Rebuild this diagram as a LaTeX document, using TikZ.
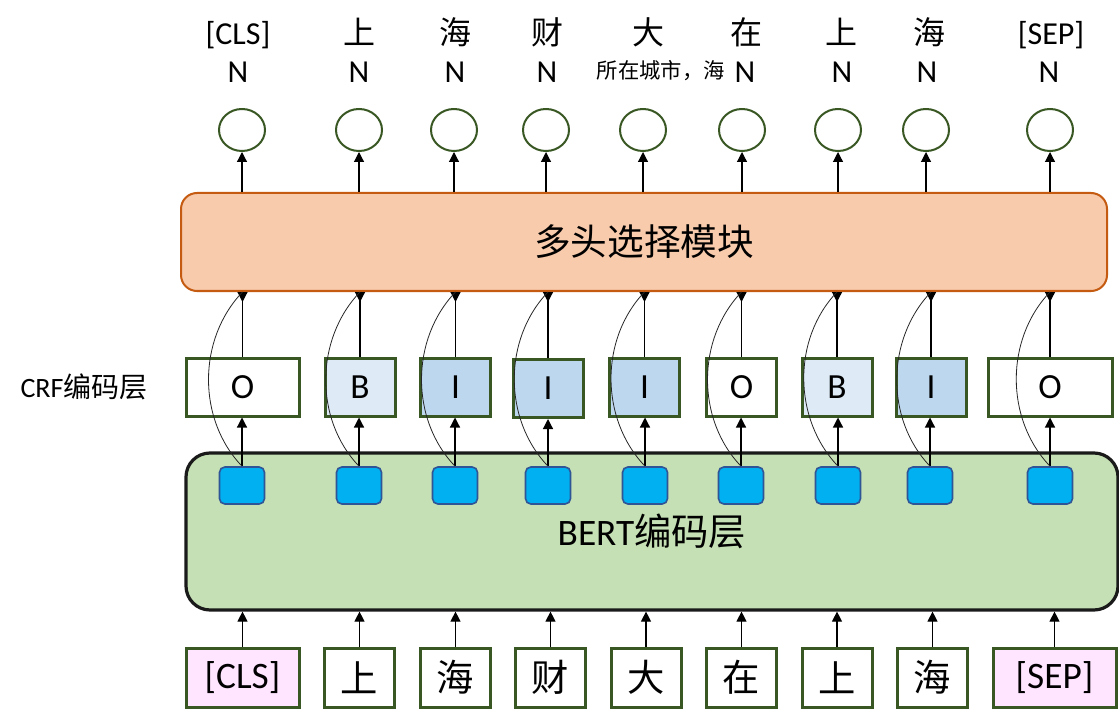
\documentclass[tikz,border=0pt]{standalone}
\usepackage{fontspec}
\setmainfont{Carlito}
\newfontfamily\cjk{Noto Sans CJK SC}
\usetikzlibrary{arrows.meta,shapes.geometric}
\definecolor{ink}{HTML}{000000}
\definecolor{grn}{HTML}{385723}
\definecolor{tagB}{HTML}{DEEBF7}
\definecolor{tagI}{HTML}{BDD7EE}
\definecolor{spec}{HTML}{FFE5FF}
\definecolor{bertfill}{HTML}{C5E0B4}
\definecolor{bertline}{HTML}{1A1A1A}
\definecolor{selfill}{HTML}{F8CBAD}
\definecolor{selline}{HTML}{C55A11}
\definecolor{tokfill}{HTML}{00B0F0}
\definecolor{tokline}{HTML}{2F5597}
\newcommand{\fsz}[1]{\fontsize{#1}{#1}\selectfont}
\tikzset{
  lbl/.style={inner sep=0pt, font=\fsz{24}, anchor=base},
  outc/.style={draw=grn, line width=1.5pt, ellipse, fill=white, inner sep=0pt,
               minimum width=34.5pt, minimum height=31.5pt},
  crf/.style={draw=grn, line width=2.25pt, fill=white, inner sep=0pt, font=\fsz{26.5},
              minimum width=52.5pt, minimum height=43.5pt},
  inp/.style={crf, minimum height=44.25pt, font=\fsz{28}},
  tok/.style={draw=tokline, line width=1.2pt, fill=tokfill, rounded corners=4pt, inner sep=0pt,
              minimum width=33.75pt, minimum height=27.75pt},
  selbox/.style={draw=selline, line width=1.5pt, fill=selfill, rounded corners=12pt,
                 minimum width=694.5pt, minimum height=73.5pt, font=\cjk\fsz{27.5}},
  bertbox/.style={draw=bertline, line width=2.4pt, fill=bertfill, rounded corners=18pt,
                  minimum width=699pt, minimum height=117.75pt, font=\fsz{28}},
  arr/.style={-{Triangle[length=7.5pt,width=7.5pt]}, line width=0.9pt, draw=ink},
  rarr/.style={{Triangle[reversed,length=7.5pt,width=7.5pt]}-, line width=0.9pt, draw=ink},
  skip/.style={line width=0.6pt, draw=ink!85},
}

\begin{document}
\begin{tikzpicture}[x=0.75pt,y=-0.75pt]
  \useasboundingbox (0,0) rectangle (1119,723);
  % predicted words
  \node[lbl] (w1) at (238,45)  {[CLS]};
  \node[lbl] (w2) at (359,45)  {\cjk 上};
  \node[lbl] (w3) at (455,45)  {\cjk 海};
  \node[lbl] (w4) at (547,45)  {\cjk 财};
  \node[lbl] (w5) at (648,45)  {\cjk 大};
  \node[lbl] (w6) at (746,45)  {\cjk 在};
  \node[lbl] (w7) at (841,45)  {\cjk 上};
  \node[lbl] (w8) at (929,45)  {\cjk 海};
  \node[lbl] (w9) at (1051,45) {[SEP]};
  % relation labels
  \node[lbl] (r1) at (238,83)  {N};
  \node[lbl] (r2) at (359,83)  {N};
  \node[lbl] (r3) at (455,83)  {N};
  \node[lbl] (r4) at (547,83)  {N};
  \node[lbl, anchor=base east, font=\cjk\fsz{16}] (r5) at (725,79) {所在城市，海};
  \node[lbl] (r6) at (745,83)  {N};
  \node[lbl] (r7) at (842,83)  {N};
  \node[lbl] (r8) at (927,83)  {N};
  \node[lbl] (r9) at (1049,83) {N};
  % output nodes
  \node[outc] (o1) at (242,130)  {};
  \node[outc] (o2) at (359,130)  {};
  \node[outc] (o3) at (454,130)  {};
  \node[outc] (o4) at (546,130)  {};
  \node[outc] (o5) at (643,130)  {};
  \node[outc] (o6) at (742,130)  {};
  \node[outc] (o7) at (838,130)  {};
  \node[outc] (o8) at (926,130)  {};
  \node[outc] (o9) at (1050,130) {};
  % multi-head selection
  \node[selbox] (sel) at (644,242) {多头选择模块};
  % CRF layer
  \node[font=\fsz{21}] (crflbl) at (84,387) {CRF{\cjk 编码层}};
  \node[crf, minimum width=84.75pt] (c1) at (242.5,387) {O};
  \node[crf, fill=tagB] (c2) at (360,387)   {B};
  \node[crf, fill=tagI] (c3) at (455.5,387) {I};
  \node[crf, fill=tagI] (c4) at (548,388.5) {I};
  \node[crf, fill=tagI] (c5) at (644.5,387) {I};
  \node[crf]            (c6) at (741.5,387) {O};
  \node[crf, fill=tagB] (c7) at (837,387)   {B};
  \node[crf, fill=tagI] (c8) at (931,387)   {I};
  \node[crf, minimum width=93pt] (c9) at (1050,387) {O};
  % BERT layer
  \node[bertbox] (bert) at (652,531.5) {BERT{\cjk 编码层}};
  \node[tok] (b1) at (242,485.5)  {};
  \node[tok] (b2) at (359,485.5)  {};
  \node[tok] (b3) at (455,485.5)  {};
  \node[tok] (b4) at (548,485.5)  {};
  \node[tok] (b5) at (645,485.5)  {};
  \node[tok] (b6) at (741,485.5)  {};
  \node[tok] (b7) at (838,485.5)  {};
  \node[tok] (b8) at (930,485.5)  {};
  \node[tok] (b9) at (1050,485.5) {};
  % input tokens
  \node[inp, minimum width=84.75pt, fill=spec] (i1) at (242.5,677.5) {[CLS]};
  \node[inp] (i2) at (359.5,677.5) {\cjk 上};
  \node[inp] (i3) at (455.5,677.5) {\cjk 海};
  \node[inp] (i4) at (550.5,677.5) {\cjk 财};
  \node[inp] (i5) at (646,677.5)   {\cjk 大};
  \node[inp] (i6) at (741.5,677.5) {\cjk 在};
  \node[inp] (i7) at (837,677.5)   {\cjk 上};
  \node[inp] (i8) at (932.5,677.5) {\cjk 海};
  \node[inp, minimum width=92.25pt, fill=spec] (i9) at (1054.5,677.5) {[SEP]};
  % inputs -> BERT
  \draw[arr] (i1.north) -- (i1.north |- bert.south);
  \draw[arr] (i2.north) -- (i2.north |- bert.south);
  \draw[arr] (i3.north) -- (i3.north |- bert.south);
  \draw[arr] (i4.north) -- (i4.north |- bert.south);
  \draw[arr] (i5.north) -- (i5.north |- bert.south);
  \draw[arr] (i6.north) -- (i6.north |- bert.south);
  \draw[arr] (i7.north) -- (i7.north |- bert.south);
  \draw[arr] (i8.north) -- (i8.north |- bert.south);
  \draw[arr] (i9.north) -- (i9.north |- bert.south);
  % BERT -> CRF
  \draw[arr] (b1.north) -- (b1.north |- c1.south);
  \draw[arr] (b2.north) -- (b2.north |- c2.south);
  \draw[arr] (b3.north) -- (b3.north |- c3.south);
  \draw[arr] (b4.north) -- (b4.north |- c4.south);
  \draw[arr] (b5.north) -- (b5.north |- c5.south);
  \draw[arr] (b6.north) -- (b6.north |- c6.south);
  \draw[arr] (b7.north) -- (b7.north |- c7.south);
  \draw[arr] (b8.north) -- (b8.north |- c8.south);
  \draw[arr] (b9.north) -- (b9.north |- c9.south);
  % CRF -> selection
  \draw[rarr] (c1.north |- sel.south) -- (c1.north);
  \draw[rarr] (c2.north |- sel.south) -- (c2.north);
  \draw[rarr] (c3.north |- sel.south) -- (c3.north);
  \draw[rarr] (c4.north |- sel.south) -- (c4.north);
  \draw[rarr] (c5.north |- sel.south) -- (c5.north);
  \draw[rarr] (c6.north |- sel.south) -- (c6.north);
  \draw[rarr] (c7.north |- sel.south) -- (c7.north);
  \draw[rarr] (c8.north |- sel.south) -- (c8.north);
  \draw[rarr] (c9.north |- sel.south) -- (c9.north);
  % BERT -> selection (bypass)
  \draw[skip] (b1.north) .. controls +(-45,-47) and +(-45,47) .. (c1.north |- sel.south);
  \draw[skip] (b2.north) .. controls +(-45,-47) and +(-45,47) .. (c2.north |- sel.south);
  \draw[skip] (b3.north) .. controls +(-45,-47) and +(-45,47) .. (c3.north |- sel.south);
  \draw[skip] (b4.north) .. controls +(-45,-47) and +(-45,47) .. (c4.north |- sel.south);
  \draw[skip] (b5.north) .. controls +(-45,-47) and +(-45,47) .. (c5.north |- sel.south);
  \draw[skip] (b6.north) .. controls +(-45,-47) and +(-45,47) .. (c6.north |- sel.south);
  \draw[skip] (b7.north) .. controls +(-45,-47) and +(-45,47) .. (c7.north |- sel.south);
  \draw[skip] (b8.north) .. controls +(-45,-47) and +(-45,47) .. (c8.north |- sel.south);
  \draw[skip] (b9.north) .. controls +(-45,-47) and +(-45,47) .. (c9.north |- sel.south);
  % selection -> outputs
  \draw[arr] (o1.south |- sel.north) -- (o1.south);
  \draw[arr] (o2.south |- sel.north) -- (o2.south);
  \draw[arr] (o3.south |- sel.north) -- (o3.south);
  \draw[arr] (o4.south |- sel.north) -- (o4.south);
  \draw[arr] (o5.south |- sel.north) -- (o5.south);
  \draw[arr] (o6.south |- sel.north) -- (o6.south);
  \draw[arr] (o7.south |- sel.north) -- (o7.south);
  \draw[arr] (o8.south |- sel.north) -- (o8.south);
  \draw[arr] (o9.south |- sel.north) -- (o9.south);
\end{tikzpicture}
\end{document}
